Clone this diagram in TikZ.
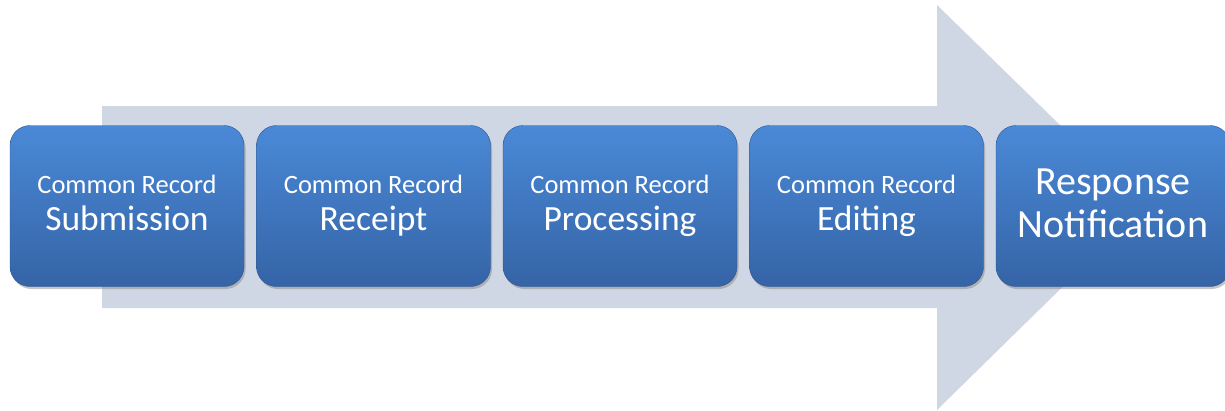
\documentclass[tikz,border=0pt]{standalone}
\usepackage{fontspec}
\setmainfont{Carlito}
\usetikzlibrary{positioning,shadows}

\definecolor{arrowgrey}{HTML}{CFD6E4}
\definecolor{boxtop}{HTML}{4A89D7}
\definecolor{boxbottom}{HTML}{3564A6}

\newcommand{\crlabel}[1]{Common Record\vphantom{g}\\
  \fontsize{35.5}{37}\selectfont #1\vphantom{g}}

\begin{document}
\begin{tikzpicture}[x=1pt,y=-1pt,node distance=246.5pt,on grid,
  stage/.style={rounded corners=20pt,minimum width=234pt,minimum height=161pt,
    top color=boxtop,bottom color=boxbottom,draw=boxbottom!85!black,line width=0.4pt,
    text=white,align=center,font=\fontsize{26.5}{37}\selectfont,
    drop shadow={shadow xshift=1.5pt,shadow yshift=-2.5pt,opacity=0.45}}]
   \useasboundingbox (0,0) rectangle (1225,410);
   % big arrow behind the stages
   \fill[arrowgrey] (102,106) -- (937,106) -- (937,5) -- (1144,207)
      -- (937,410) -- (937,308) -- (102,308) -- cycle;

   \node[stage] (s_1) at (127,206) {\crlabel{Submission}};
   \node[stage] (s_2) [right=of s_1] {\crlabel{Receipt}};
   \node[stage] (s_3) [right=of s_2] {\crlabel{Processing}};
   \node[stage] (s_4) [right=of s_3] {\crlabel{Editing}};
   \node[stage] (s_5) [right=of s_4,font=\fontsize{40}{43}\selectfont]
      {Response\vphantom{fg}\\ Notification\vphantom{fg}};
\end{tikzpicture}
\end{document}
